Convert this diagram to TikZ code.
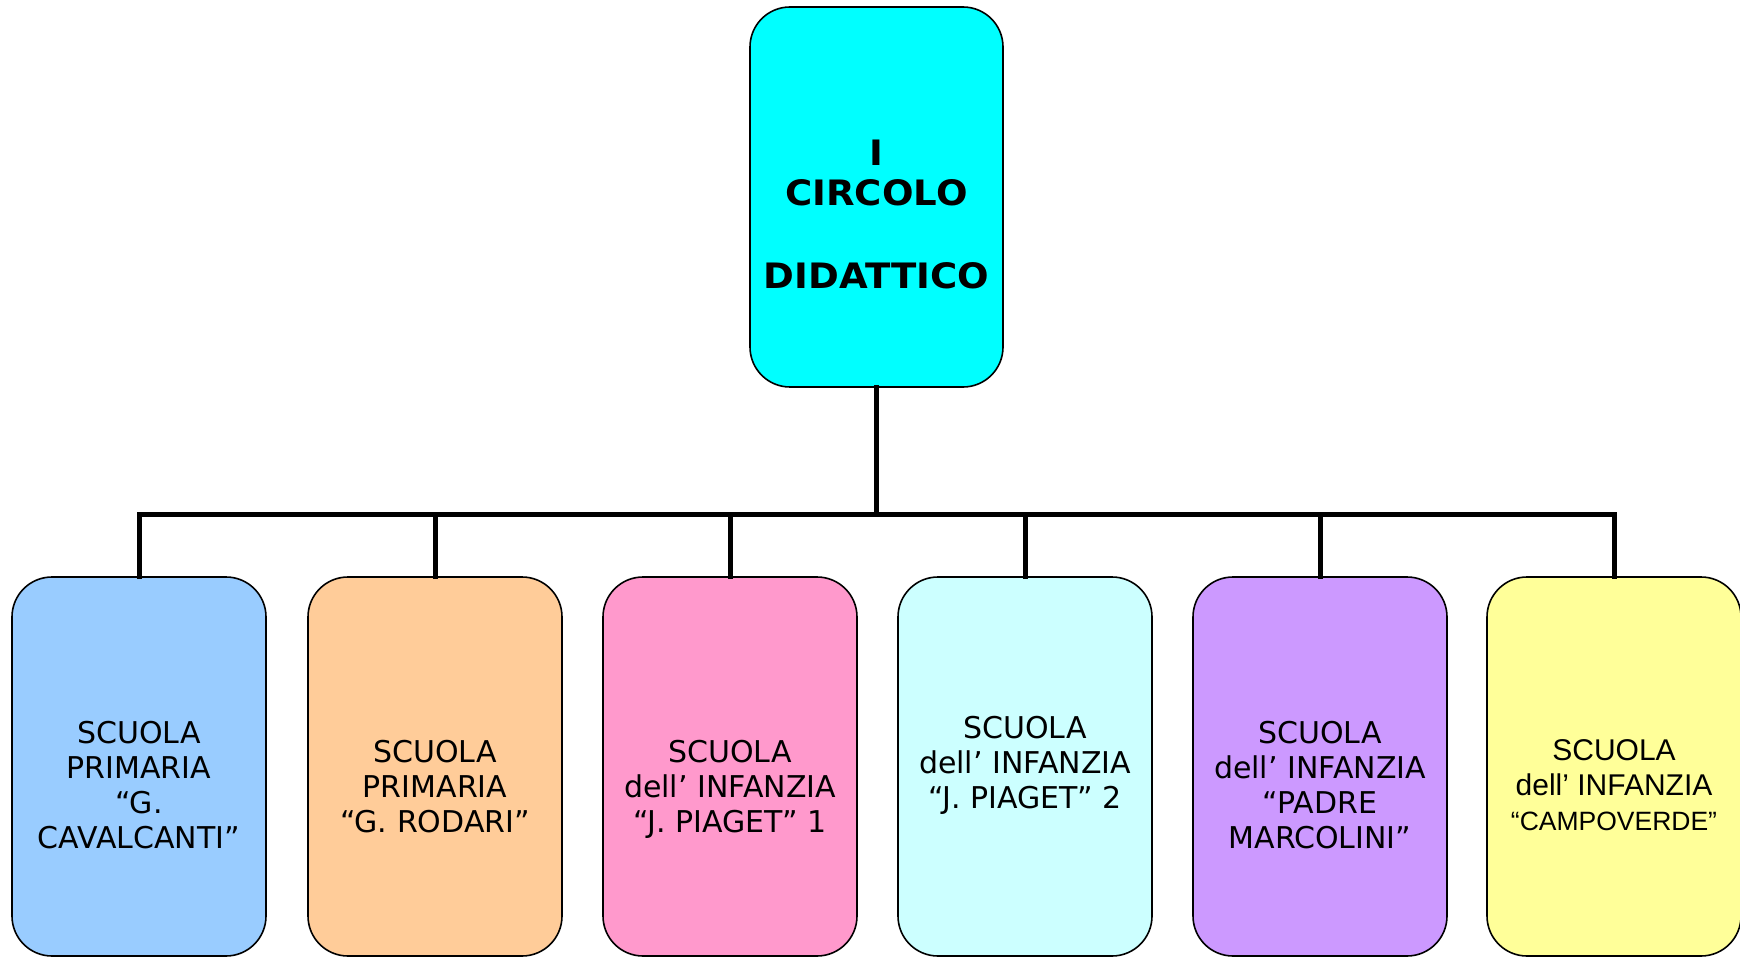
\documentclass[tikz,border=0pt]{standalone}
\usepackage{fontspec}
\setmainfont{DejaVu Sans}
\newfontfamily\arialfont{Liberation Sans}
\newfontfamily\topfont[FakeStretch=1.06]{DejaVu Sans Bold}
\definecolor{ctop}{HTML}{00FFFF}
\definecolor{cone}{HTML}{99CCFF}
\definecolor{ctwo}{HTML}{FFCC99}
\definecolor{cthree}{HTML}{FF99CC}
\definecolor{cfour}{HTML}{CCFFFF}
\definecolor{cfive}{HTML}{CC99FF}
\definecolor{csix}{HTML}{FFFF99}
\tikzset{
  boxshape/.style={draw=black, line width=1.6pt, rounded corners=40pt,
    minimum width=254pt, minimum height=379pt, inner sep=0pt},
  boxtext/.style={anchor=north, inner sep=0pt, align=center,
    font=\fontsize{30}{35}\selectfont},
  toptext/.style={anchor=north, inner sep=0pt, align=center,
    font=\topfont\fontsize{35}{40}\selectfont},
  conn/.style={line width=5pt, line join=miter, line cap=rect}
}
\begin{document}
\begin{tikzpicture}[x=1pt,y=-1pt]
\useasboundingbox (0,0) rectangle (1740,957);
\fill[white] (0,0) rectangle (1740,957);
% top node
\node[boxshape, fill=ctop, minimum width=253pt, minimum height=380pt] (top) at (876.5,197) {};
\node[toptext] (ttop) at (876.5,139.5) {I\\CIRCOLO\\[43pt]DIDATTICO};
% bottom boxes
\node[boxshape, fill=cone]   (b1) at (139,766.5) {};
\node[boxshape, fill=ctwo]   (b2) at (435,766.5) {};
\node[boxshape, fill=cthree] (b3) at (730,766.5) {};
\node[boxshape, fill=cfour]  (b4) at (1025,766.5) {};
\node[boxshape, fill=cfive]  (b5) at (1320,766.5) {};
\node[boxshape, fill=csix]   (b6) at (1614,766.5) {};
% texts
\node[boxtext] (t1) at (139,721) {SCUOLA\\PRIMARIA\\“G.\\CAVALCANTI”};
\node[boxtext] (t2) at (435,740) {SCUOLA\\PRIMARIA\\“G. RODARI”};
\node[boxtext] (t3) at (730,740) {SCUOLA\\dell’ INFANZIA\\“J. PIAGET” 1};
\node[boxtext] (t4) at (1025,716) {SCUOLA\\dell’ INFANZIA\\“J. PIAGET” 2};
\node[boxtext] (t5) at (1320,721) {SCUOLA\\dell’ INFANZIA\\“PADRE\\MARCOLINI”};
\node[boxtext, font=\arialfont\fontsize{30}{35}\selectfont] (t6) at (1614,739)
  {SCUOLA\\dell’ INFANZIA\\{\fontsize{26.5}{37}\selectfont “CAMPOVERDE”}};
% connectors
\coordinate (j) at (876.5,514);
\draw[conn] (top.south) -- (j);
\draw[conn] (b1.north) -- (b1.north |- j) -- (b6.north |- j) -- (b6.north);
\foreach \b in {b2,b3,b4,b5} \draw[conn] (\b.north) -- (\b.north |- j);
\end{tikzpicture}
\end{document}
